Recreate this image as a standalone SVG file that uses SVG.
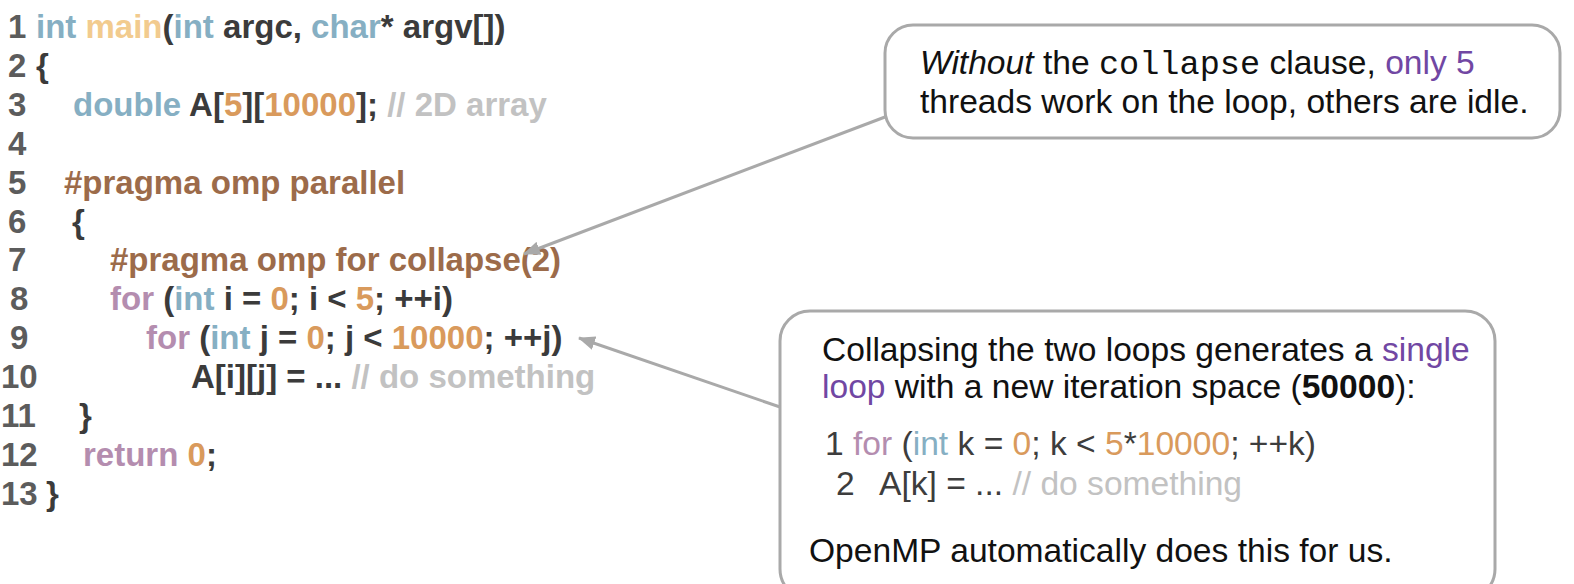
<svg xmlns="http://www.w3.org/2000/svg" width="1574" height="584" viewBox="0 0 1574 584">
<style>
.code{font-family:"Liberation Sans",Arial,sans-serif;font-weight:bold;font-size:33px;fill:#3b3b3b}
.ln{fill:#5c5c5c}
.kw{fill:#86afc3}
.fn{fill:#f2cb8e}
.num{fill:#d99a5c}
.cm{fill:#c2c2c2}
.pp{fill:#9c6b4a}
.ctl{fill:#b48daf}
.note{font-family:"Liberation Sans",Arial,sans-serif;font-size:33.6px;fill:#111}
.ncode{font-family:"Liberation Sans",Arial,sans-serif;font-size:33.6px;fill:#3d3d3d}
.mono{font-family:"Liberation Mono","Courier New",monospace}
.pur{fill:#7147a3}
.box{fill:#fff;stroke:#a9a9a9;stroke-width:3}
.conn{fill:none;stroke:#a9a9a9;stroke-width:3}
</style>
<defs>
<marker id="ah" markerUnits="userSpaceOnUse" markerWidth="18" markerHeight="14" refX="16" refY="7" orient="auto">
<path d="M0,0 L17,7 L0,14 z" fill="#a9a9a9"/>
</marker>
</defs>

<g id="code" class="code">
<text x="8" y="38" class="ln">1</text>
<text x="36" y="38"><tspan class="kw">int</tspan> <tspan class="fn">main</tspan>(<tspan class="kw">int</tspan> argc, <tspan class="kw">char</tspan>* argv[])</text>
<text x="8" y="76.9" class="ln">2</text>
<text x="36" y="76.9">{</text>
<text x="8" y="115.8" class="ln">3</text>
<text x="73" y="115.8"><tspan class="kw">double</tspan> A[<tspan class="num">5</tspan>][<tspan class="num">10000</tspan>]; <tspan class="cm">// 2D array</tspan></text>
<text x="8" y="154.7" class="ln">4</text>
<text x="8" y="193.6" class="ln">5</text>
<text x="64" y="193.6" class="pp">#pragma omp parallel</text>
<text x="8" y="232.5" class="ln">6</text>
<text x="72" y="232.5">{</text>
<text x="8" y="271.4" class="ln">7</text>
<text x="110" y="271.4" class="pp">#pragma omp for collapse(2)</text>
<text x="10" y="310.3" class="ln">8</text>
<text x="110" y="310.3"><tspan class="ctl">for</tspan> (<tspan class="kw">int</tspan> i = <tspan class="num">0</tspan>; i &lt; <tspan class="num">5</tspan>; ++i)</text>
<text x="10" y="349.2" class="ln">9</text>
<text x="146" y="349.2"><tspan class="ctl">for</tspan> (<tspan class="kw">int</tspan> j = <tspan class="num">0</tspan>; j &lt; <tspan class="num">10000</tspan>; ++j)</text>
<text x="1" y="388.1" class="ln">10</text>
<text x="191" y="388.1">A[i][j] = ... <tspan class="cm">// do something</tspan></text>
<text x="1" y="427" class="ln">11</text>
<text x="79" y="427">}</text>
<text x="1" y="465.9" class="ln">12</text>
<text x="83" y="465.9"><tspan class="ctl">return</tspan> <tspan class="num">0</tspan>;</text>
<text x="1" y="504.8" class="ln">13</text>
<text x="46" y="504.8">}</text>
</g>

<g id="note-without">
<rect class="box" x="885" y="25" width="675" height="113" rx="28" ry="28"/>
<text class="note" x="920" y="74"><tspan font-style="italic">Without</tspan> the <tspan class="mono">collapse</tspan> clause, <tspan class="pur">only 5</tspan></text>
<text class="note" x="920" y="113">threads work on the loop, others are idle.</text>
</g>

<g id="note-collapsing">
<rect class="box" x="780" y="311" width="715" height="288" rx="30" ry="30"/>
<text class="note" x="822" y="361">Collapsing the two loops generates a <tspan class="pur">single</tspan></text>
<text class="note" x="822" y="398"><tspan class="pur">loop</tspan> with a new iteration space (<tspan font-weight="bold">50000</tspan>):</text>
<text class="ncode" x="825" y="455">1 <tspan class="ctl">for</tspan> (<tspan class="kw">int</tspan> k = <tspan class="num">0</tspan>; k &lt; <tspan class="num">5</tspan>*<tspan class="num">10000</tspan>; ++k)</text>
<text class="ncode" x="836" y="495">2</text>
<text class="ncode" x="879" y="495">A[k] = ... <tspan class="cm">// do something</tspan></text>
<text class="note" x="809" y="562">OpenMP automatically does this for us.</text>
</g>

<g id="connectors">
<line class="conn" x1="885" y1="117" x2="524" y2="254" marker-end="url(#ah)"/>
<line class="conn" x1="780" y1="407" x2="579" y2="338" marker-end="url(#ah)"/>
</g>
</svg>
